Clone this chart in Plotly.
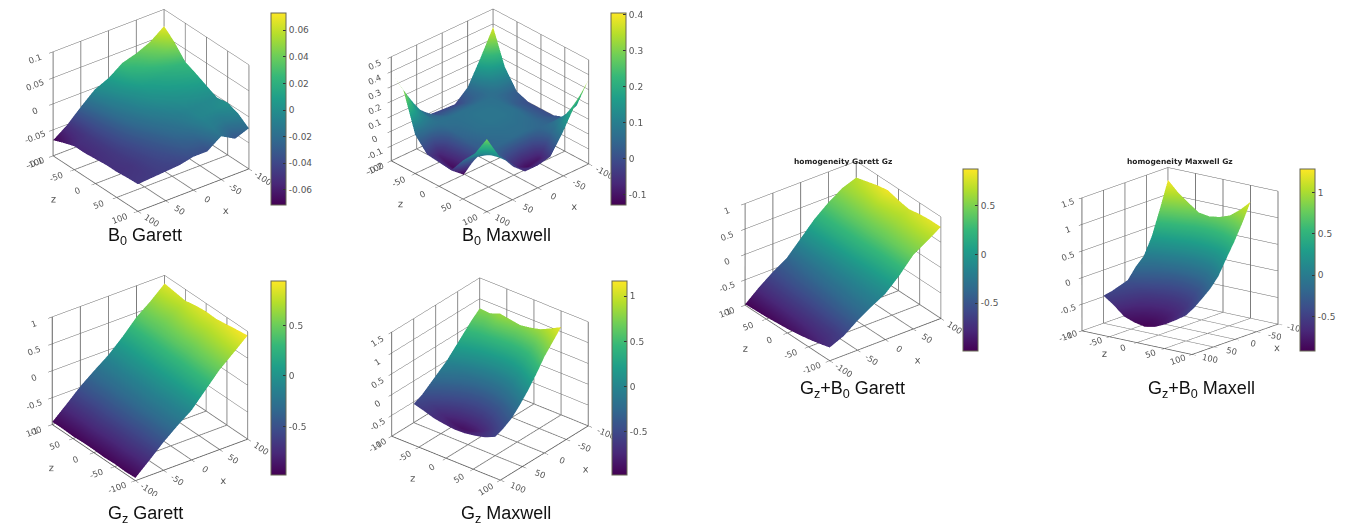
import math
import plotly.graph_objects as go

W, H = 1365, 525
FONT = "DejaVu Sans"
CAP = "Liberation Sans"

full_axis = [-100, -75, -50, -25, 0, 25, 50, 75, 100]
part_axis = [-100, -81.25, -62.5, -43.75, -25, -6.25, 12.5, 31.25, 50]

b0_garett = [
    [.068, .048, .036, .028, .009, -.003, -.026, -.051, -.070],
    [.050, .037, .027, .018, .004, -.010, -.030, -.050, -.062],
    [.026, .020, .014, .008, -.003, -.015, -.033, -.048, -.055],
    [.017, .012, .007, .001, -.008, -.020, -.035, -.048, -.055],
    [.007, .004, .000, -.006, -.014, -.025, -.037, -.048, -.053],
    [-.003, -.004, -.006, -.012, -.020, -.030, -.040, -.048, -.051],
    [.001, -.004, -.006, -.017, -.025, -.034, -.042, -.049, -.051],
    [-.007, -.014, -.010, -.025, -.030, -.038, -.043, -.048, -.049],
    [-.022, -.032, -.017, -.036, -.036, -.042, -.044, -.046, -.048],
]
b0_maxwell = [
    [.38, .21, .054, -.02, -.015, -.008, .075, .232, .40],
    [.15, .12, .05, .03, .03, .03, .06, .15, .32],
    [.03, .05, .07, .07, .07, .07, .07, .07, .06],
    [.00, .03, .07, .08, .08, .07, .05, -.08, -.03],
    [.00, .03, .07, .08, .08, .07, .04, -.11, -.04],
    [.00, .03, .06, .07, .07, .06, .03, -.12, -.05],
    [.03, .04, .05, .06, .06, .05, .05, .04, .06],
    [.15, .12, .05, -.09, -.11, -.06, .05, .10, .15],
    [.37, .25, .10, -.03, -.05, -.05, .04, .13, .29],
]
gz_garett = [
    [-.95, -.72, -.48, -.27, -.08, .20, .48, .70, .925],
    [-.96, -.72, -.48, -.26, -.07, .20, .47, .69, .90],
    [-.95, -.71, -.49, -.26, -.07, .19, .46, .67, .87],
    [-.96, -.72, -.48, -.26, -.06, .18, .44, .65, .84],
    [-.95, -.72, -.48, -.27, -.07, .18, .44, .65, .85],
    [-.95, -.71, -.48, -.27, -.08, .17, .43, .63, .83],
    [-.96, -.72, -.49, -.28, -.08, .16, .42, .60, .79],
    [-.95, -.72, -.48, -.28, -.09, .15, .42, .62, .82],
    [-.95, -.72, -.48, -.28, -.09, .15, .42, .62, .85],
]
gz_maxwell = [
    [.77, .60, .40, .20, .00, -.15, -.30, -.45, -.55],
    [.75, .55, .33, .12, -.10, -.25, -.42, -.58, -.62],
    [.84, .55, .28, .05, -.18, -.35, -.52, -.72, -.70],
    [.80, .52, .25, .00, -.23, -.42, -.60, -.82, -.74],
    [.76, .50, .23, -.02, -.25, -.45, -.63, -.88, -.77],
    [.80, .52, .25, .00, -.23, -.43, -.62, -.84, -.76],
    [.86, .58, .33, .06, -.16, -.38, -.55, -.74, -.72],
    [.98, .72, .47, .20, -.05, -.28, -.45, -.60, -.66],
    [1.11, .88, .65, .35, .08, -.15, -.35, -.47, -.55],
]
sum_garett = [
    [-.74, -.62, -.42, -.25, -.10, .15, .45, .62, .80],
    [-.80, -.67, -.44, -.26, -.09, .16, .44, .62, .80],
    [-.85, -.68, -.46, -.27, -.09, .16, .43, .61, .78],
    [-.89, -.70, -.48, -.29, -.09, .17, .42, .60, .74],
    [-.92, -.71, -.50, -.30, -.09, .18, .42, .61, .78],
    [-.94, -.72, -.51, -.32, -.10, .18, .41, .62, .84],
    [-.96, -.73, -.52, -.34, -.10, .18, .41, .60, .80],
    [-.97, -.74, -.54, -.36, -.10, .18, .40, .59, .74],
    [-.98, -.75, -.55, -.38, -.10, .18, .40, .58, .68],
]
sum_maxwell = [
    [1.27, .78, .32, .00, -.15, -.35, -.40, -.45, -.48],
    [1.07, .62, .20, -.12, -.28, -.45, -.52, -.57, -.62],
    [.92, .52, .12, -.20, -.38, -.55, -.65, -.72, -.79],
    [.78, .42, .05, -.27, -.45, -.60, -.71, -.80, -.86],
    [.75, .40, .03, -.27, -.47, -.62, -.73, -.83, -.90],
    [.78, .44, .08, -.22, -.43, -.58, -.70, -.79, -.86],
    [.85, .52, .17, -.12, -.35, -.50, -.62, -.70, -.77],
    [1.00, .66, .33, .06, -.18, -.35, -.48, -.57, -.65],
    [1.19, .85, .55, .28, .00, -.18, -.31, -.43, -.52],
]

bar_ticks_1 = [-0.06, -0.04, -0.02, 0, 0.02, 0.04, 0.06]
bar_labels_1 = ["-0.06", "-0.04", "-0.02", "0", "0.02", "0.04", "0.06"]
bar_ticks_2 = [-0.1, 0, 0.1, 0.2, 0.3, 0.4]
bar_labels_2 = ["-0.1", "0", "0.1", "0.2", "0.3", "0.4"]
bar_ticks_3 = [-0.5, 0, 0.5]
bar_labels_3 = ["-0.5", "0", "0.5"]
bar_ticks_4 = [-0.5, 0, 0.5, 1]
bar_labels_4 = ["-0.5", "0", "0.5", "1"]

vert_1 = [-0.1, -0.05, 0, 0.05, 0.1]
vert_1_t = ["-0.1", "-0.05", "0", "0.05", "0.1"]
vert_2 = [-0.2, -0.1, 0, 0.1, 0.2, 0.3, 0.4, 0.5]
vert_2_t = ["-0.2", "-0.1", "0", "0.1", "0.2", "0.3", "0.4", "0.5"]
vert_3 = [-1, -0.5, 0, 0.5, 1]
vert_3_t = ["-1", "-0.5", "0", "0.5", "1"]
vert_4 = [-1, -0.5, 0, 0.5, 1, 1.5]
vert_4_t = ["-1", "-0.5", "0", "0.5", "1", "1.5"]
floor_ticks = [-100, -50, 0, 50, 100]
floor_labels = ["-100", "-50", "0", "50", "100"]

# cy: domain centre (px); lift: upward camera offset so the box sits above the centre
panels = [
    dict(z=b0_garett, ax=full_axis, cx=150.5, cy=118, lift=-.075, phi=52.6, el=30, sign=1, asp=.86,
         vt=vert_1, vl=vert_1_t, vr=[-.1, .1], bt=bar_ticks_1, bl=bar_labels_1,
         cmin=-.0713, cmax=.0728, bx=271, by=(13, 205)),
    dict(z=b0_maxwell, ax=full_axis, cx=490, cy=118, lift=-.075, phi=46.8, el=30, sign=1, asp=.86,
         vt=vert_2, vl=vert_2_t, vr=[-.2, .5], bt=bar_ticks_2, bl=bar_labels_2,
         cmin=-.128, cmax=.405, bx=611, by=(13, 205)),
    dict(z=gz_garett, ax=full_axis, cx=149.5, cy=378, lift=0, phi=53.5, el=30, sign=-1, asp=.89,
         vt=vert_3, vl=vert_3_t, vr=[-1, 1], bt=bar_ticks_3, bl=bar_labels_3,
         cmin=-.98, cmax=.94, bx=271, by=(281, 475)),
    dict(z=gz_maxwell, ax=part_axis, cx=490, cy=379, lift=0, phi=39, el=30, sign=1, asp=.86,
         vt=vert_4, vl=vert_4_t, vr=[-1, 1.5], bt=bar_ticks_4, bl=bar_labels_4,
         cmin=-.98, cmax=1.17, bx=612, by=(281, 475)),
    dict(z=sum_garett, ax=full_axis, cx=843, cy=261, lift=0, phi=52.7, el=30, sign=-1, asp=.84,
         vt=vert_3, vl=vert_3_t, vr=[-1, 1], bt=bar_ticks_3, bl=bar_labels_3,
         cmin=-.99, cmax=.877, bx=963, by=(169, 351)),
    dict(z=sum_maxwell, ax=part_axis, cx=1180, cy=260.5, lift=0, phi=38, el=16, sign=1, asp=.99,
         vt=vert_4, vl=vert_4_t, vr=[-1, 1.5], bt=bar_ticks_4, bl=bar_labels_4,
         cmin=-.92, cmax=1.288, bx=1300, by=(169, 351)),
]

captions = [
    ("B<sub>0</sub> Garett", 145, 236),
    ("B<sub>0</sub> Maxwell", 506, 236),
    ("G<sub>z</sub> Garett", 145, 514),
    ("G<sub>z</sub> Maxwell", 506, 514),
    ("G<sub>z</sub>+B<sub>0</sub> Garett", 852, 389),
    ("G<sub>z</sub>+B<sub>0</sub> Maxell", 1201, 389),
]
headers = [
    ("homogeneity Garett Gz", 843, 162),
    ("homogeneity Maxwell Gz", 1180, 162),
]

EYE_R = 2.2
ZOOM = 1.184
DOM_W, DOM_H = 296, 236

fig = go.Figure()
layout_scenes = {}
for i, p in enumerate(panels):
    name = "scene" if i == 0 else f"scene{i + 1}"
    fig.add_trace(go.Surface(
        x=p["ax"], y=p["ax"], z=p["z"], scene=name,
        colorscale="Viridis", cmin=p["cmin"], cmax=p["cmax"],
        lighting=dict(ambient=1, diffuse=0, specular=0, fresnel=0, roughness=1),
        hoverinfo="skip",
        colorbar=dict(
            x=p["bx"] / W, xanchor="left", xpad=0,
            y=1 - p["by"][1] / H, yanchor="bottom", ypad=0,
            lenmode="pixels", len=p["by"][1] - p["by"][0],
            thicknessmode="pixels", thickness=15,
            tickmode="array", tickvals=p["bt"], ticktext=p["bl"],
            ticks="inside", ticklen=3, tickcolor="#333",
            tickfont=dict(family=FONT, size=9, color="#555"),
            outlinecolor="#665", outlinewidth=1, bgcolor="white",
        ),
    ))
    ph, el = math.radians(p["phi"]), math.radians(p["el"])
    s = p["sign"]
    eye = dict(x=s * EYE_R * math.cos(ph) * math.cos(el),
               y=s * EYE_R * math.sin(ph) * math.cos(el),
               z=EYE_R * math.sin(el) + p["lift"])
    floor_rng = [-100, 100]
    def axis(grid="#7c7c7c", gw=2, **kw):
        return dict(showbackground=False, showspikes=False, showgrid=True, gridcolor=grid,
                    gridwidth=gw, zeroline=False, showline=True, linecolor="#555", linewidth=1.5,
                    ticks="outside", ticklen=5, tickcolor="#555",
                    tickfont=dict(family=FONT, size=10, color="#555"), **kw)
    layout_scenes[name] = dict(
        domain=dict(x=[(p["cx"] - DOM_W / 2) / W, (p["cx"] + DOM_W / 2) / W],
                    y=[1 - (p["cy"] + DOM_H / 2) / H, 1 - (p["cy"] - DOM_H / 2) / H]),
        camera=dict(eye=eye, center=dict(x=0, y=0, z=p["lift"]), up=dict(x=0, y=0, z=1),
                    projection=dict(type="orthographic")),
        aspectmode="manual", aspectratio=dict(x=ZOOM, y=ZOOM, z=ZOOM * p["asp"]),
        xaxis=axis(range=floor_rng, tickvals=floor_ticks, ticktext=floor_labels,
                   title=dict(text="x", font=dict(family=FONT, size=10, color="#555"))),
        yaxis=axis(range=floor_rng, tickvals=floor_ticks, ticktext=floor_labels,
                   title=dict(text="z", font=dict(family=FONT, size=10, color="#555"))),
        zaxis=axis(grid="#666", gw=1, range=p["vr"], tickvals=p["vt"], ticktext=p["vl"], title=dict(text="")),
    )

annotations = []
for text, x, y in captions:
    annotations.append(dict(text=text, x=x / W, y=1 - y / H, xref="paper", yref="paper",
                            showarrow=False, xanchor="center", yanchor="middle",
                            font=dict(family=CAP, size=18, color="#111")))
for text, x, y in headers:
    annotations.append(dict(text=f"<b>{text}</b>", x=x / W, y=1 - y / H, xref="paper", yref="paper",
                            showarrow=False, xanchor="center", yanchor="middle",
                            font=dict(family=FONT, size=7.5, color="#222")))

fig.update_layout(width=W, height=H, margin=dict(l=0, r=0, t=0, b=0), paper_bgcolor="white",
                  showlegend=False, annotations=annotations, **layout_scenes)
fig.write_html("out.html", config={"displayModeBar": False},
               post_script="document.body.style.margin='0';")
